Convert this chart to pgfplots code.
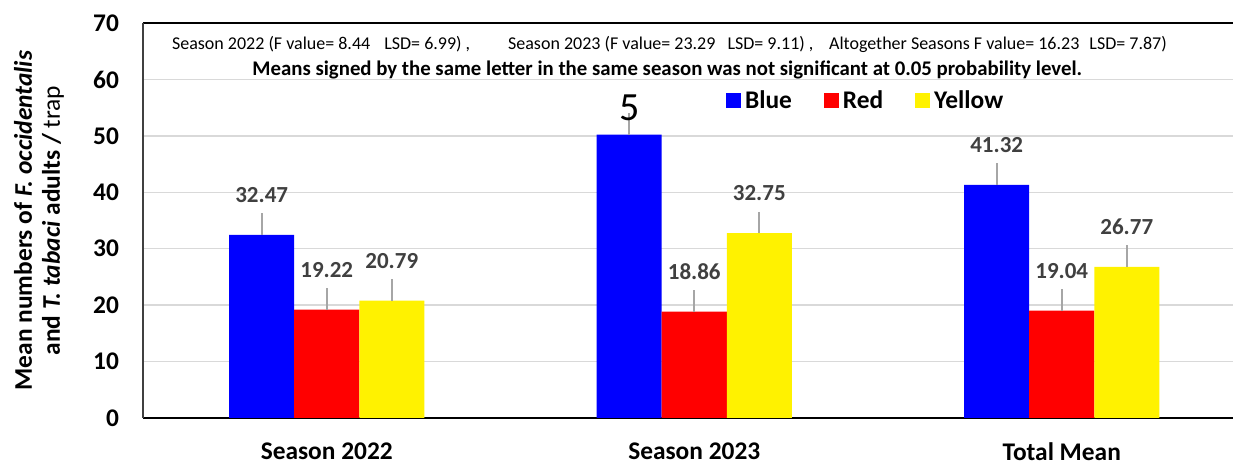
\documentclass[border=0pt]{standalone}
\usepackage{fontspec}
\setmainfont{Carlito}
\usepackage{pgfplots}
\pgfplotsset{compat=1.18}
\definecolor{lbl}{HTML}{404040}
\definecolor{grd}{HTML}{D9D9D9}
\definecolor{ldr}{HTML}{A6A6A6}
\begin{document}
\begin{tikzpicture}
\begin{axis}[name=ax, scale only axis, width=545pt, height=197.5pt,
  xmin=-0.5, xmax=2.466, ymin=0, ymax=70,
  ybar=0pt, bar width=0.177,
  xtick={0,1,2}, xticklabels={Season 2022, Season 2023, Total Mean},
  ytick={0,10,...,70},
  major tick length=0pt,
  ymajorgrids, grid style={grd, line width=0.75pt},
  axis x line=box, axis y line=left, separate axis lines,
  x axis line style={black, line width=1.25pt},
  y axis line style={-, black!75, line width=0.6pt},
  tick label style={font=\bfseries\fontsize{12.7}{15}\selectfont},
  /pgf/number format/assume math mode=true,
  yticklabel style={xshift=-8.5pt},
  xticklabel style={inner sep=1pt, yshift=-11.2pt},
  point meta=explicit symbolic,
  nodes near coords,
  nodes near coords style={font=\bfseries\fontsize{11.5}{13}\selectfont, text=lbl, yshift=12.5pt},
  error bars/y dir=plus, error bars/y fixed=3.8, error bars/error mark=none,
  error bars/error bar style={color=ldr, line width=0.8pt},
  legend style={draw=none, fill=none, legend columns=3, at={(axis cs:1.069,56.2)}, anchor=west,
    font=\bfseries\fontsize{12.7}{15}\selectfont,
    /tikz/every even column/.append style={column sep=14pt}},
  legend image code/.code={\fill[#1] (0pt,-3.75pt) rectangle (7.5pt,3.75pt);},
]
\addplot[fill=blue, draw=none] coordinates {(0,32.47) [32.47] (1,50.2) [{\raisebox{-9pt}[0pt][0pt]{\fontsize{20}{24}\selectfont\mdseries\color{black}5}}] (2,41.32) [41.32]};
\addplot[fill=red, draw=none] coordinates {(0,19.22) [19.22] (1,18.86) [18.86] (2,19.04) [19.04]};
\addplot[fill=yellow, draw=none] coordinates {(0,20.79) [20.79] (1,32.75) [32.75] (2,26.77) [26.77]};
\legend{Blue, Red, Yellow}
\node[anchor=west, font=\fontsize{9}{11}\selectfont, inner sep=0pt] at (axis cs:-0.422,66.28) {Season 2022 (F value= 8.44\hspace{5pt} LSD= 6.99) ,};
\node[anchor=west, font=\fontsize{9}{11}\selectfont, inner sep=0pt] at (axis cs:0.4925,66.28) {Season 2023 (F value= 23.29\hspace{4pt} LSD= 9.11) ,};
\node[anchor=west, font=\fontsize{9}{11}\selectfont, inner sep=0pt] at (axis cs:1.366,66.28) {Altogether Seasons F value= 16.23\hspace{3pt} LSD= 7.87)};
\node[font=\bfseries\fontsize{10.4}{12}\selectfont, inner sep=0pt] at (axis cs:0.9265,61.67) {Means signed by the same letter in the same season was not significant at 0.05 probability level.};
\end{axis}
\node[rotate=90, align=center, font=\bfseries\fontsize{12.7}{14}\selectfont] at ([xshift=-52pt]ax.west) {Mean numbers of \textit{F. occidentalis}\\and \textit{T. tabaci} adults / \mdseries trap};
\pgfresetboundingbox
\path[use as bounding box] ([xshift=-71.5pt,yshift=-23.5pt]ax.south west) rectangle ([yshift=11.5pt]ax.north east);
\end{tikzpicture}
\end{document}
